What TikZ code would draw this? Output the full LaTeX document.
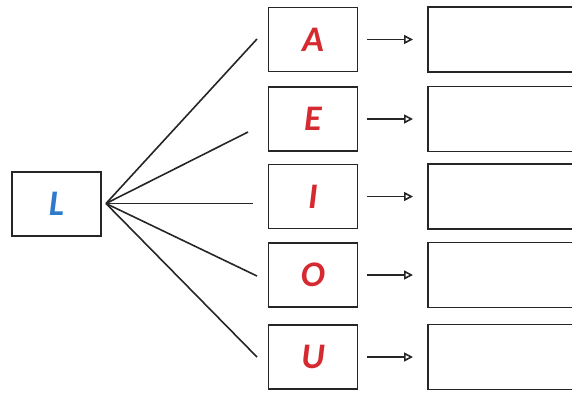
\documentclass[tikz,border=0pt]{standalone}
\usepackage{fontspec}
\setmainfont{Carlito}
\usetikzlibrary{arrows.meta}
\definecolor{vred}{HTML}{D42A30}
\definecolor{lblue}{HTML}{2F7BCB}
\tikzset{
  box/.style={draw=black!85, line width=1.8pt, minimum width=89pt, minimum height=64pt, inner sep=0pt, font=\bfseries\itshape\fontsize{36}{36}\selectfont},
  outbox/.style={draw=black!85, line width=1.8pt, minimum width=160pt, minimum height=65pt, inner sep=0pt},
  fan/.style={line width=1.6pt, black!85},
  arr/.style={line width=1.6pt, black!85, -{Triangle[open, length=9pt, width=9pt, line width=1.6pt]}}
}
\begin{document}
\begin{tikzpicture}[x=1pt, y=-1pt]
\useasboundingbox (0,0) rectangle (572,392);
\clip (0,0) rectangle (572,392);
\node[box, text=lblue] (L) at (56.5,204) {L};
\coordinate (src) at (106,203.5);
\foreach \n/\t/\y in {na/A/39.5, ne/E/119, ni/I/196.5, no/O/275, nu/U/357}{
  \node[box, text=vred] (\n) at (313,\y) {\t};
  \node[outbox, anchor=west] (r\n) at (427,\y) {};
  \draw[arr] ([xshift=9pt]\n.east) -- ([xshift=-14pt]r\n.west);
}
\coordinate (ea) at (257,39);
\coordinate (ee) at (248,132);
\coordinate (ei) at (253,203.5);
\coordinate (eo) at (257,276);
\coordinate (eu) at (257,357);
\foreach \e in {ea,ee,ei,eo,eu}{
  \draw[fan] (src) -- (\e);
}
\end{tikzpicture}
\end{document}
